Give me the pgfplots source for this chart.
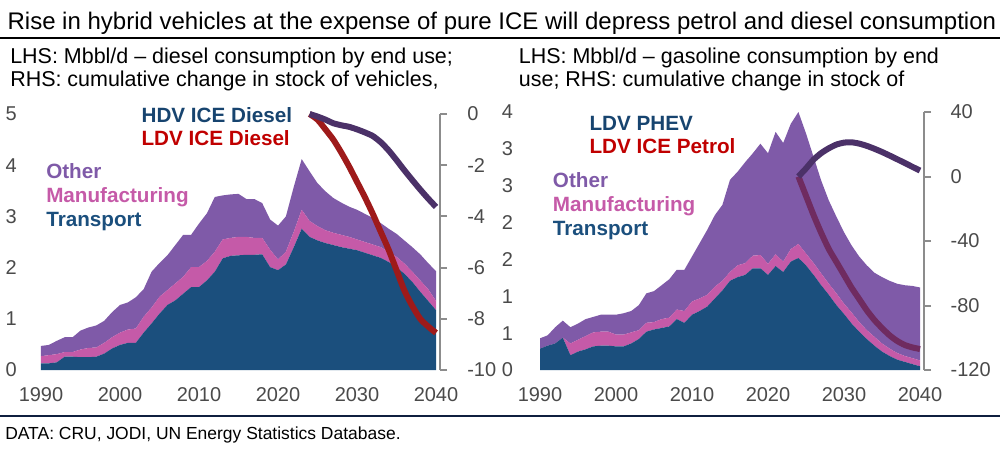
\documentclass[border=0pt]{standalone}
\usepackage{pgfplots}
\pgfplotsset{compat=1.18}
\usepackage{pgfplotstable}
\usepackage{fontspec}
\setmainfont{Liberation Sans}
\definecolor{transport}{HTML}{1B4F7D}
\definecolor{manuf}{HTML}{C55AA8}
\definecolor{other}{HTML}{7F5AA8}
\definecolor{hdvline}{HTML}{4B3168}
\definecolor{ldvred}{HTML}{9E1A1A}
\definecolor{labelred}{HTML}{C00000}
\definecolor{labelblue}{HTML}{17446F}
\definecolor{petrol}{HTML}{6F2B60}
\definecolor{tickgray}{HTML}{4A4A4A}
\definecolor{axisgray}{HTML}{8C8C8C}
\definecolor{navy}{HTML}{0F1F3F}

\pgfplotstableread{
year T M O
1990 0.13 0.14 0.20
1991 0.13 0.16 0.20
1992 0.15 0.16 0.26
1993 0.26 0.09 0.29
1994 0.26 0.09 0.29
1995 0.25 0.15 0.37
1996 0.25 0.18 0.40
1997 0.26 0.18 0.43
1998 0.32 0.21 0.43
1999 0.42 0.22 0.49
2000 0.49 0.24 0.54
2001 0.53 0.26 0.53
2002 0.53 0.28 0.61
2003 0.73 0.31 0.54
2004 0.91 0.31 0.70
2005 1.10 0.33 0.66
2006 1.27 0.29 0.68
2007 1.36 0.33 0.75
2008 1.49 0.33 0.82
2009 1.62 0.39 0.63
2010 1.62 0.39 0.85
2011 1.75 0.38 0.93
2012 1.92 0.39 1.07
2013 2.18 0.37 0.86
2014 2.23 0.35 0.85
2015 2.24 0.36 0.84
2016 2.25 0.35 0.74
2017 2.25 0.33 0.76
2018 2.26 0.32 0.68
2019 2.01 0.34 0.59
2020 1.95 0.21 0.66
2021 2.06 0.25 0.69
2022 2.40 0.30 0.88
2023 2.76 0.37 0.99
2024 2.60 0.31 0.97
2025 2.53 0.28 0.84
2026 2.48 0.25 0.76
2027 2.44 0.24 0.68
2028 2.40 0.24 0.63
2029 2.37 0.23 0.59
2030 2.34 0.21 0.58
2031 2.29 0.21 0.55
2032 2.24 0.21 0.52
2033 2.19 0.21 0.47
2034 2.11 0.20 0.45
2035 2.01 0.20 0.45
2036 1.88 0.20 0.45
2037 1.72 0.20 0.48
2038 1.53 0.22 0.51
2039 1.35 0.23 0.51
2040 1.17 0.18 0.58
}\diesel

\pgfplotstableread{
year T M O
1990 0.29 0.00 0.14
1991 0.33 0.00 0.14
1992 0.36 0.00 0.22
1993 0.44 0.00 0.23
1994 0.20 0.16 0.22
1995 0.25 0.16 0.22
1996 0.28 0.18 0.23
1997 0.32 0.19 0.21
1998 0.33 0.19 0.23
1999 0.33 0.19 0.23
2000 0.32 0.16 0.27
2001 0.32 0.16 0.29
2002 0.36 0.15 0.29
2003 0.42 0.12 0.34
2004 0.52 0.12 0.40
2005 0.55 0.10 0.42
2006 0.57 0.12 0.46
2007 0.59 0.12 0.52
2008 0.69 0.13 0.54
2009 0.64 0.16 0.56
2010 0.75 0.18 0.61
2011 0.80 0.17 0.75
2012 0.86 0.16 0.88
2013 0.97 0.16 0.97
2014 1.08 0.13 1.03
2015 1.21 0.12 1.25
2016 1.26 0.16 1.27
2017 1.29 0.16 1.37
2018 1.38 0.17 1.39
2019 1.38 0.18 1.51
2020 1.29 0.15 1.50
2021 1.41 0.16 1.66
2022 1.33 0.14 1.61
2023 1.47 0.17 1.70
2024 1.52 0.19 1.79
2025 1.42 0.16 1.63
2026 1.29 0.16 1.44
2027 1.15 0.16 1.26
2028 1.02 0.15 1.13
2029 0.88 0.16 1.04
2030 0.76 0.14 0.97
2031 0.63 0.15 0.91
2032 0.52 0.13 0.89
2033 0.42 0.12 0.88
2034 0.33 0.12 0.87
2035 0.25 0.11 0.90
2036 0.19 0.10 0.92
2037 0.14 0.09 0.94
2038 0.11 0.08 0.96
2039 0.08 0.08 0.98
2040 0.05 0.08 0.99
}\gasoline

\pgfplotstableread{
year hdv ldv
2024 0.00 0.00
2025 -0.10 -0.22
2026 -0.22 -0.60
2027 -0.36 -1.00
2028 -0.44 -1.50
2029 -0.50 -2.05
2030 -0.60 -2.65
2031 -0.72 -3.25
2032 -0.86 -3.90
2033 -1.10 -4.60
2034 -1.42 -5.30
2035 -1.80 -6.10
2036 -2.20 -6.90
2037 -2.58 -7.50
2038 -2.95 -8.00
2039 -3.30 -8.30
2040 -3.63 -8.55
}\dieselveh

\pgfplotstableread{
year phev petrol
2024 0.0 0
2025 5.0 -12
2026 10.5 -24
2027 14.5 -35
2028 17.5 -45
2029 19.8 -53
2030 21.0 -61
2031 21.2 -69
2032 20.4 -76
2033 19.0 -83
2034 17.2 -89
2035 15.2 -94
2036 13.0 -98.5
2037 10.7 -102
2038 8.4 -104.5
2039 6.0 -106
2040 3.7 -107
}\gasveh

\pgfplotsset{
  areaaxis/.style={
    scale only axis, anchor=south west, clip=false,
    xmin=1990, xmax=2040,
    axis line style={draw=none}, major tick length=0pt,
    xtick={1990,2000,2010,2020,2030,2040},
    xticklabels={1990,2000,2010,2020,2030,2040},
    tick label style={font=\fontsize{15}{18}\selectfont, text=tickgray, inner sep=0pt},
    xticklabel style={anchor=north, yshift=-12.75pt},
    yticklabel style={anchor=east},
    stack plots=y,
  },
  lineaxis/.style={
    scale only axis, anchor=south west, clip=false,
    xmin=1990, axis x line=none, axis y line*=right,
    y axis line style={draw=axisgray, line width=1.5pt},
    tick align=outside, major tick length=5.25pt,
    tick style={draw=axisgray, line width=1.5pt},
    tick label style={font=\fontsize{15}{18}\selectfont, text=tickgray, inner sep=0pt},
    yticklabel style={anchor=west},
  },
  vline/.style={line width=4.5pt, line join=round, smooth, tension=0.4},
}
\tikzset{
  lbl/.style={anchor=base west, inner sep=0pt, font=\fontsize{15.5}{18}\selectfont\bfseries},
  sub/.style={anchor=base west, inner sep=0pt, font=\fontsize{16.1}{19}\selectfont},
}

\begin{document}
\begin{tikzpicture}
\path[use as bounding box] (0,0) rectangle (750pt,-337.5pt);
\node[anchor=base west, inner sep=0pt, font=\fontsize{18}{20}\selectfont] at (5.5pt,-22pt)
  {Rise in hybrid vehicles at the expense of pure ICE will depress petrol and diesel consumption};
\draw[line width=1.1pt, black] (0,-28.5pt) -- (750pt,-28.5pt);
\node[sub] at (7.5pt,-47.5pt) {LHS: Mbbl/d – diesel consumption by end use;};
\node[sub] at (7.5pt,-64.5pt) {RHS: cumulative change in stock of vehicles,};
\node[sub] at (389pt,-47.5pt) {LHS: Mbbl/d – gasoline consumption by end};
\node[sub] at (389pt,-64.5pt) {use; RHS: cumulative change in stock of};

% ---- left chart
\begin{axis}[areaaxis, at={(30.75pt,-277.5pt)}, width=296.25pt, height=192pt,
  ymin=0, ymax=5, ytick={0,1,2,3,4,5}, yticklabels={0,1,2,3,4,5},
  yticklabel style={xshift=-18pt}]
\addplot[fill=transport, draw=none] table[x=year,y=T]{\diesel} \closedcycle;
\addplot[fill=manuf, draw=none] table[x=year,y=M]{\diesel} \closedcycle;
\addplot[fill=other, draw=none] table[x=year,y=O]{\diesel} \closedcycle;
\end{axis}
\begin{axis}[lineaxis, at={(30.75pt,-277.5pt)}, width=299.25pt, height=192pt,
  xmax=2040.506, ymin=-10, ymax=0, ytick={-10,-8,-6,-4,-2,0},
  yticklabels={-10,-8,-6,-4,-2,0}, yticklabel style={xshift=15pt}]
\addplot[ldvred, vline] table[x=year,y=ldv]{\dieselveh};
\addplot[hdvline, vline] table[x=year,y=hdv]{\dieselveh};
\end{axis}
\node[lbl, text=labelblue] at (106pt,-91.5pt) {HDV ICE Diesel};
\node[lbl, text=labelred] at (106pt,-108.75pt) {LDV ICE Diesel};
\node[lbl, text=other] at (34.5pt,-133.5pt) {Other};
\node[lbl, text=manuf] at (34.5pt,-151.5pt) {Manufacturing};
\node[lbl, text=transport] at (34.5pt,-169.5pt) {Transport};

% ---- right chart
\begin{axis}[areaaxis, at={(405pt,-277.5pt)}, width=285pt, height=193.5pt,
  ymin=0, ymax=3.5, ytick={0,0.5,1,1.5,2,2.5,3,3.5}, yticklabels={0,1,1,2,2,3,3,4},
  yticklabel style={xshift=-20pt}]
\addplot[fill=transport, draw=none] table[x=year,y=T]{\gasoline} \closedcycle;
\addplot[fill=manuf, draw=none] table[x=year,y=M]{\gasoline} \closedcycle;
\addplot[fill=other, draw=none] table[x=year,y=O]{\gasoline} \closedcycle;
\end{axis}
\begin{axis}[lineaxis, at={(405pt,-277.5pt)}, width=288pt, height=193.5pt,
  xmax=2040.526, ymin=-120, ymax=40, ytick={-120,-80,-40,0,40},
  yticklabels={-120,-80,-40,0,40}, yticklabel style={xshift=14.5pt}]
\addplot[petrol, vline] table[x=year,y=petrol]{\gasveh};
\addplot[hdvline, vline] table[x=year,y=phev]{\gasveh};
\end{axis}
\node[lbl, text=labelblue] at (442pt,-97.5pt) {LDV PHEV};
\node[lbl, text=labelred] at (442pt,-114.75pt) {LDV ICE Petrol};
\node[lbl, text=other] at (414.5pt,-140.25pt) {Other};
\node[lbl, text=manuf] at (414.5pt,-158.25pt) {Manufacturing};
\node[lbl, text=transport] at (414.5pt,-176.25pt) {Transport};

\draw[line width=1.1pt, navy] (0,-312pt) -- (750pt,-312pt);
\node[anchor=base west, inner sep=0pt, font=\fontsize{13.1}{16}\selectfont] at (3.75pt,-329.25pt)
  {DATA: CRU, JODI, UN Energy Statistics Database.};
\end{tikzpicture}
\end{document}
